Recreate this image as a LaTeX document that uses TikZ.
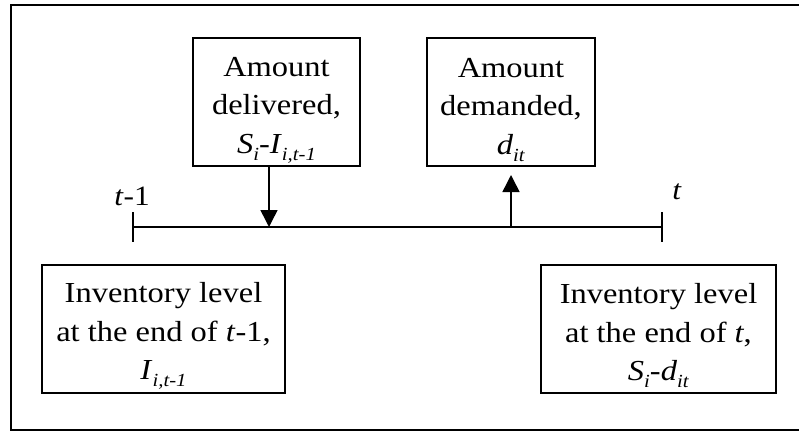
\documentclass[tikz,border=0pt]{standalone}
\usepackage{fontspec}
\setmainfont[FakeStretch=1.12]{Liberation Serif}
\usetikzlibrary{arrows.meta}
\newcommand{\sbs}[1]{\raisebox{-7pt}{\fontsize{18.5}{18.5}\selectfont\textit{#1}}}
\begin{document}
\begin{tikzpicture}[x=1pt,y=-1pt,
  box/.style={draw,line width=1.6pt,inner sep=0pt,minimum height=128pt},
  txt/.style={inner sep=0pt,align=center,font=\fontsize{29}{38.5}\selectfont},
  lbl/.style={inner sep=0pt,anchor=base,font=\fontsize{28}{34}\selectfont},
  arr/.style={line width=1.5pt,-{Triangle[width=17pt,length=17pt]}},
  tline/.style={line width=1.5pt}]
\useasboundingbox (0,0) rectangle (799,431);
\draw[line width=2pt] (799,5) -- (11,5) -- (11,429.5) -- (799,429.5);
% boxes
\node[box,minimum width=167pt] (del) at (276.5,102) {};
\node[txt] (delt) at ([yshift=-8pt]del.center) {Amount\\delivered,\\\textit{S}\sbs{i}-\textit{I}\sbs{i,t-1}};
\node[box,minimum width=168pt] (dem) at (511,102) {};
\node[txt] (demt) at ([yshift=-8pt]dem.center) {Amount\\demanded,\\\textit{d}\sbs{it}};
\node[box,minimum width=243pt] (invl) at (163.5,329) {};
\node[txt] (invlt) at ([yshift=-7pt]invl.center) {Inventory level\\at the end of \textit{t}-1,\\\textit{I}\sbs{i,t-1}};
\node[box,minimum width=235pt] (invr) at (658.5,329) {};
\node[txt] (invrt) at ([yshift=-7pt]invr.center) {Inventory level\\at the end of \textit{t},\\\textit{S}\sbs{i}-\textit{d}\sbs{it}};
% timeline
\coordinate (tl) at (133,227);
\coordinate (tr) at (662,227);
\draw[tline] (tl) -- (tr);
\draw[tline] ([yshift=15pt]tl) -- ([yshift=-15pt]tl);
\draw[tline] ([yshift=15pt]tr) -- ([yshift=-15pt]tr);
\node[lbl] (lt1) at (132,205) {\textit{t}-1};
\node[lbl] (lt) at (677,199) {\textit{t}};
% arrows
\coordinate (dA) at (269,227);
\draw[arr] (del.south -| dA) -- (dA);
\coordinate (uA) at (511,227);
\coordinate (uB) at (511,175);
\draw[arr] (uA) -- (uB);
\end{tikzpicture}
\end{document}
